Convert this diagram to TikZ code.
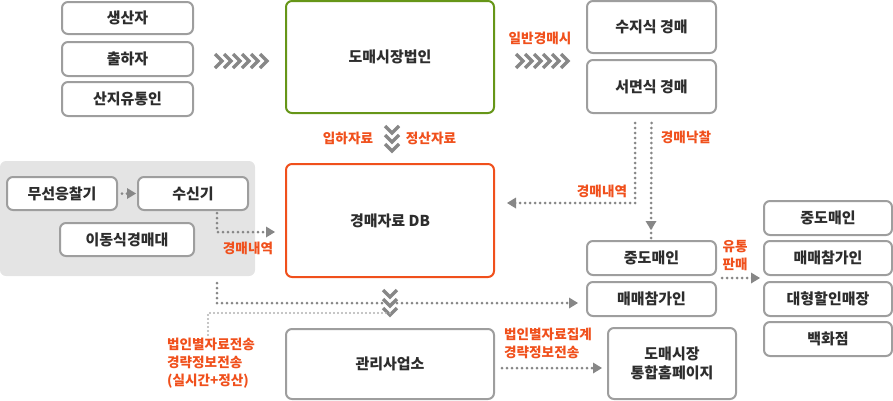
\documentclass[tikz,border=0pt]{standalone}
\usepackage{fontspec}
\setmainfont{Noto Sans CJK KR}
\usetikzlibrary{arrows.meta}
\definecolor{bgray}{RGB}{158,158,158}
\definecolor{dgray}{RGB}{135,135,135}
\definecolor{txt}{RGB}{45,45,45}
\definecolor{org}{RGB}{240,80,28}
\definecolor{grn}{RGB}{102,150,24}
\definecolor{pane}{RGB}{228,228,228}
\tikzset{
  box/.style={draw=bgray, line width=2pt, rounded corners=6pt, fill=white, text=txt,
    font=\fontsize{15}{19}\selectfont\bfseries, inner sep=0pt, align=center},
  lbl/.style={text=org, font=\fontsize{13.6}{18}\selectfont\bfseries, inner sep=0pt},
  dotline/.style={draw=dgray, line width=3pt, line cap=round, dash pattern=on 0pt off 5pt},
  chev/.style={draw=dgray, line width=3.4pt},
}
\begin{document}
\begin{tikzpicture}[x=1pt,y=-1pt]
\useasboundingbox (0,0) rectangle (893,400);
% grey pane
\fill[pane, rounded corners=6pt] (0,161) rectangle (255,276);
% nodes
\node[box, minimum width=131pt, minimum height=32pt] (p1) at (127.5,18) {생산자};
\node[box, minimum width=131pt, minimum height=34pt] (p2) at (127.5,59) {출하자};
\node[box, minimum width=131pt, minimum height=34pt] (p3) at (127.5,99) {산지유통인};
\node[box, draw=grn, minimum width=208pt, minimum height=112pt] (law) at (390,57) {도매시장법인};
\node[box, minimum width=129pt, minimum height=52pt] (a1) at (651.5,27) {수지식 경매};
\node[box, minimum width=129pt, minimum height=53pt] (a2) at (651.5,86.5) {서면식 경매};
\node[box, draw=org, minimum width=208pt, minimum height=113pt] (db) at (390,220.5) {경매자료 DB};
\node[box, minimum width=110pt, minimum height=33pt] (w1) at (62,193.5) {무선응찰기};
\node[box, minimum width=110pt, minimum height=33pt] (w2) at (193,193.5) {수신기};
\node[box, minimum width=134pt, minimum height=33pt] (w3) at (127,239.5) {이동식경매대};
\node[box, minimum width=129pt, minimum height=34pt] (m1) at (651.5,258) {중도매인};
\node[box, minimum width=129pt, minimum height=34pt] (m2) at (651.5,299) {매매참가인};
\node[box, minimum width=128pt, minimum height=34pt] (r1) at (828,218) {중도매인};
\node[box, minimum width=128pt, minimum height=34pt] (r2) at (828,258) {매매참가인};
\node[box, minimum width=128pt, minimum height=34pt] (r3) at (828,299) {대형할인매장};
\node[box, minimum width=128pt, minimum height=34pt] (r4) at (828,339) {백화점};
\node[box, minimum width=208pt, minimum height=70pt] (mg) at (390,364) {관리사업소};
\node[box, minimum width=128pt, minimum height=71pt] (hp) at (672,363.5) {도매시장\\통합홈페이지};
% labels
\node[lbl] (l1) at (540,38) {일반경매시};
\node[lbl] (l2) at (348,138) {입하자료};
\node[lbl] (l3) at (431,138) {정산자료};
\node[lbl] (l4) at (686,137) {경매낙찰};
\node[lbl] (l5) at (602,191) {경매내역};
\node[lbl] (l6) at (248,248) {경매내역};
\node[lbl, align=center] (l7) at (735,256) {유통\\판매};
\node[lbl, align=left, anchor=west] (l8) at (167,363) {법인별자료전송\\경략정보전송\\(실시간+정산)};
\node[lbl, align=left, anchor=west] (l9) at (504,343.5) {법인별자료집계\\경략정보전송};
% chevrons
\foreach \i in {0,...,5} {
  \draw[chev] (215+9*\i,54) -- (222+9*\i,61) -- (215+9*\i,68);
  \draw[chev] (516+9*\i,54) -- (523+9*\i,61) -- (516+9*\i,68);
}
\foreach \i in {0,1,2} {
  \draw[chev] (385,126+9*\i) -- (392,133+9*\i) -- (399,126+9*\i);
  \draw[chev] (383,290+9*\i) -- (390,297+9*\i) -- (397,290+9*\i);
}
% coordinates
\coordinate (c1) at (217,213);
\coordinate (c2) at (275,232);
\coordinate (c3) at (635,123);
\coordinate (c4) at (507,203);
\coordinate (c5) at (651,230);
\coordinate (c6) at (217,283);
\coordinate (c7) at (578,303);
\coordinate (c8) at (390,313);
\coordinate (c9) at (208,336);
\coordinate (c10) at (722,278);
\coordinate (c11) at (760,278);
\coordinate (c12) at (502,368);
\coordinate (c13) at (602,368);
% connectors
\draw[dotline] (w1.east) ++(4,0) -- ([xshift=-6pt]w2.west);
\fill[dgray] ([xshift=-1pt]w2.west) -- ++(-9,-5.5) -- ++(0,11) -- cycle;
\draw[dotline] (c1) |- ([xshift=-8pt]c2);
\fill[dgray] (c2) -- ++(-9,-5.5) -- ++(0,11) -- cycle;
\draw[dotline] (c3) |- ([xshift=8pt]c4);
\fill[dgray] (c4) -- ++(9,-5.5) -- ++(0,11) -- cycle;
\draw[dotline] (c3 -| a2.south) -- ([yshift=-8pt]c5);
\fill[dgray] (c5) -- ++(-5.5,-9) -- ++(11,0) -- cycle;
\draw[dotline] (c6) |- ([xshift=-8pt]c7);
\fill[dgray] (c7) -- ++(-9,-5.5) -- ++(0,11) -- cycle;
\draw[dotline, draw=bgray!80, line width=2.2pt, dash pattern=on 0pt off 4pt] (c8) -| (c9);
\draw[dotline] (c10) -- ([xshift=-8pt]c11);
\fill[dgray] (c11) -- ++(-9,-5.5) -- ++(0,11) -- cycle;
\draw[dotline] (c12) -- ([xshift=-8pt]c13);
\fill[dgray] (c13) -- ++(-9,-5.5) -- ++(0,11) -- cycle;
\end{tikzpicture}
\end{document}
